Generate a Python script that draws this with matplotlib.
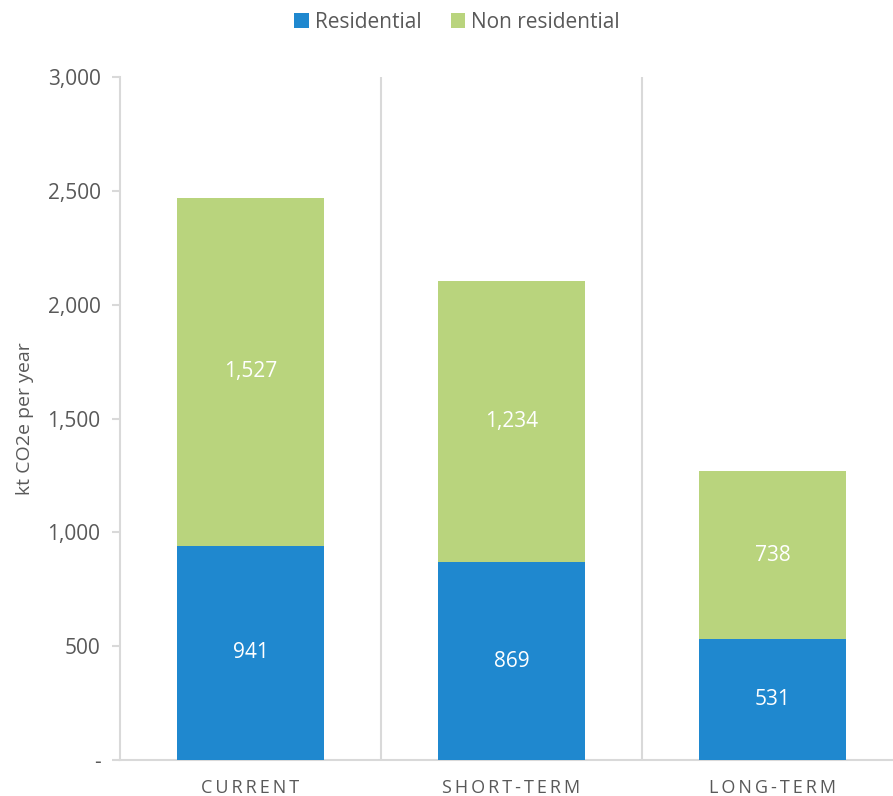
import matplotlib.pyplot as plt
import numpy as np
from matplotlib.ticker import FuncFormatter

# Data
categories = ['CURRENT', 'SHORT-TERM', 'LONG-TERM']
residential = [941, 869, 531]
non_residential = [1527, 1234, 738]

blue = '#1F88CF'
green = '#B9D47D'
grey_text = '#595959'
grey_line = '#D9D9D9'

plt.rcParams['font.family'] = ['Open Sans', 'DejaVu Sans']

fig = plt.figure(figsize=(8.93, 7.96), dpi=100)
ax = fig.add_axes([120 / 893, 36 / 796, 783 / 893, 683 / 796])

x = np.arange(len(categories))
width = 0.56
b1 = ax.bar(x, residential, width, color=blue, label='Residential', zorder=3)
b2 = ax.bar(x, non_residential, width, bottom=residential, color=green,
            label='Non residential', zorder=3)

# value labels
for i in range(len(categories)):
    ax.text(x[i], residential[i] / 2, f'{residential[i]:,}', ha='center', va='center',
            color='white', fontsize=15)
    ax.text(x[i], residential[i] + non_residential[i] / 2, f'{non_residential[i]:,}',
            ha='center', va='center', color='white', fontsize=15)

ax.set_xlim(-0.5, 2.5)
ax.set_ylim(0, 3000)
ax.set_yticks(range(0, 3001, 500))
ax.yaxis.set_major_formatter(FuncFormatter(lambda v, p: '-' if v == 0 else f'{int(v):,}'))

# separators between categories
for sep in [0.5, 1.5]:
    ax.axvline(sep, color=grey_line, lw=1.5, zorder=1)

for s in ['top', 'right']:
    ax.spines[s].set_visible(False)
ax.spines['left'].set_color(grey_line)
ax.spines['left'].set_linewidth(1.5)
ax.spines['bottom'].set_color(grey_line)
ax.spines['bottom'].set_linewidth(1.5)

ax.tick_params(axis='y', colors=grey_line, labelcolor=grey_text, labelsize=15,
               length=6, width=1.5, pad=8)
ax.tick_params(axis='x', length=0, pad=14)
ax.set_xticks(x)
ax.set_xticklabels(['\u2009'.join(c) for c in categories], color=grey_text, fontsize=13)

ax.set_ylabel('kt CO2e per year', color=grey_text, fontsize=14, labelpad=10)

fig.legend(handles=[b1, b2], loc='center', bbox_to_anchor=(457 / 893, 1 - 22 / 796),
           ncol=2, frameon=False, fontsize=15, handlelength=0.7, handleheight=0.7,
           handletextpad=0.3, columnspacing=1.4, labelcolor=grey_text)

fig.savefig('out.png', dpi=100)
